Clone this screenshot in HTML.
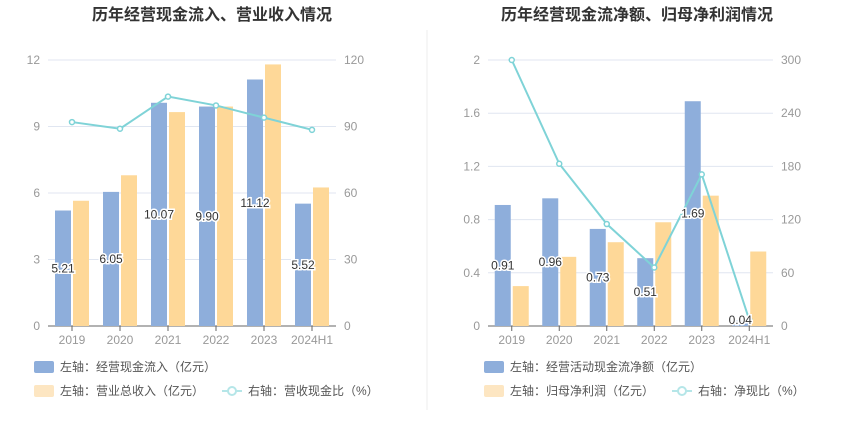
<!DOCTYPE html>
<html><head><meta charset="utf-8"><style>
body{margin:0;background:#fff;font-family:"Liberation Sans","Noto Sans CJK SC",sans-serif;}
svg text{font-family:"Liberation Sans","Noto Sans CJK SC",sans-serif;}
</style></head><body>
<svg id="c" width="850" height="437"></svg>
<script>
const cats=["2019","2020","2021","2022","2023","2024H1"];
const inflow=[5.21,6.05,10.07,9.90,11.12,5.52];
const revenue=[5.65,6.8,9.65,9.9,11.8,6.25];
const ratio1=[92,89,103.5,99.5,94,88.5];
const leftTicks1=[0,3,6,9,12];
const rightTicks1=[0,30,60,90,120];
const netcf=[0.91,0.96,0.73,0.51,1.69,0.04];
const profit=[0.3,0.52,0.63,0.78,0.98,0.56];
const ratio2=[300,183,115,66,171,7];
const leftTicks2=[0,0.4,0.8,1.2,1.6,2];
const rightTicks2=[0,60,120,180,240,300];
const NS="http://www.w3.org/2000/svg";
const svg=document.getElementById('c');
function el(t,a,txt){const e=document.createElementNS(NS,t);for(const k in a)e.setAttribute(k,a[k]);if(txt!==undefined)e.textContent=txt;svg.appendChild(e);return e;}
function chart(o){
 const top=60,bot=326;
 const x=i=>o.x0+o.step*(i+0.5);
 const yl=v=>bot-(v/o.lmax)*(bot-top);
 const yr=v=>bot-(v/o.rmax)*(bot-top);
 let t=el('text',{x:o.cx,y:20,'text-anchor':'middle','font-size':16,'font-weight':'bold',fill:'#333'},o.title);
 
 o.lt.forEach(v=>{let g=el('line',{x1:o.x0,x2:o.x1,y1:yl(v),y2:yl(v),stroke:v==0?'#666':'#e0e6f1'});
  
  let a=el('text',{x:o.x0-8,y:yl(v)+4,'text-anchor':'end','font-size':12,fill:'#999'},v);
  });
 o.rt.forEach(v=>{let a=el('text',{x:o.x1+8,y:yr(v)+4,'font-size':12,fill:'#999'},v);
  });
 cats.forEach((c,i)=>{let tk=el('line',{x1:x(i),x2:x(i),y1:bot,y2:bot+5,stroke:'#666'});
  
  let a=el('text',{x:x(i),y:bot+18,'text-anchor':'middle','font-size':12,fill:'#999'},c);
  });
 o.b1.forEach((v,i)=>{let r=el('rect',{x:x(i)-17,y:yl(v),width:16,height:bot-yl(v),fill:'#8eaedb'});
  });
 o.b2.forEach((v,i)=>{let r=el('rect',{x:x(i)+1,y:yl(v),width:16,height:bot-yl(v),fill:'#fed898'});
  });
 let p=el('polyline',{points:o.ln.map((v,i)=>x(i)+','+yr(v)).join(' '),fill:'none',stroke:'#7fd3d7','stroke-width':2});
 
 o.ln.forEach((v,i)=>{let c=el('circle',{cx:x(i),cy:yr(v),r:2.5,fill:'#fff',stroke:'#7fd3d7','stroke-width':1.5});
  });
 o.b1.forEach((v,i)=>{let ly=(bot+yl(v))/2+4;let a=el('text',{x:x(i)-9,y:ly,'text-anchor':'middle','font-size':12,fill:'#333',stroke:'#fff','stroke-width':3,'paint-order':'stroke'},v.toFixed(2));
  if(v<o.lmax*0.05){a.setAttribute('y',bot-2);}
  });
 const L=o.lx;
 function leg(sx,sy,kind,color,txt){
  if(kind=='rect'){let r=el('rect',{x:sx,y:sy-6,width:20,height:12,rx:2,fill:color});}
  else{let l=el('line',{x1:sx,x2:sx+20,y1:sy,y2:sy,stroke:color,'stroke-width':2});
   let c=el('circle',{cx:sx+10,cy:sy,r:4,fill:'#fff',stroke:color,'stroke-width':2});}
  let a=el('text',{x:sx+26,y:sy+4,'font-size':12,fill:'#555'},txt);
 }
 leg(L,367,'rect','#8eaedb',o.lg[0]);
 leg(L,391,'rect','#fde6c2',o.lg[1]);
 leg(L+188,391,'line','#b5e6e8',o.lg[2]);
}
chart({id:'left',title:'历年经营现金流入、营业收入情况',cx:212,x0:48,x1:336,step:48,lmax:12,rmax:120,lt:leftTicks1,rt:rightTicks1,b1:inflow,b2:revenue,ln:ratio1,lx:34,
 lg:['左轴：经营现金流入（亿元）','左轴：营业总收入（亿元）','右轴：营收现金比（%）']});
chart({id:'right',title:'历年经营现金流净额、归母净利润情况',cx:637,x0:488,x1:773,step:47.5,lmax:2,rmax:300,lt:leftTicks2,rt:rightTicks2,b1:netcf,b2:profit,ln:ratio2,lx:484,
 lg:['左轴：经营活动现金流净额（亿元）','左轴：归母净利润（亿元）','右轴：净现比（%）']});
let d=el('line',{x1:427,x2:427,y1:30,y2:410,stroke:'#eee'});

</script>
</body></html>
